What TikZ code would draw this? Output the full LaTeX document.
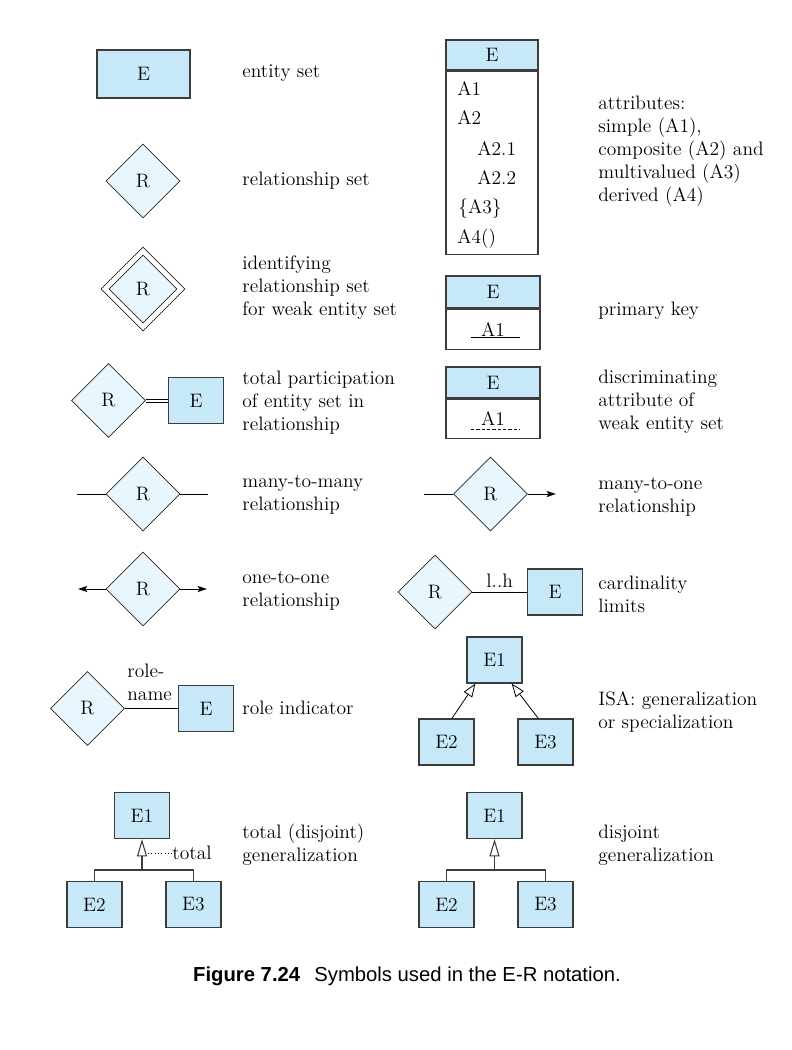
\documentclass[tikz,border=0pt]{standalone}
\usepackage{fontspec}
\newfontfamily\capfont{Liberation Sans}
\usetikzlibrary{shapes.geometric, arrows.meta, positioning}
\definecolor{entblue}{RGB}{198,232,248}
\definecolor{relblue}{RGB}{234,246,253}
\definecolor{edgegray}{RGB}{60,60,60}

\tikzset{
  ent/.style={draw=edgegray, fill=entblue, line width=0.9pt,
    minimum width=41.25pt, minimum height=34.5pt, inner sep=0pt},
  rel/.style={diamond, draw=black!85, fill=relblue, line width=0.6pt,
    minimum width=55.5pt, minimum height=55.5pt, inner sep=0pt},
  tbl/.style={draw=edgegray, line width=0.9pt, inner sep=0pt},
  desc/.style={anchor=west, align=left, inner sep=0pt},
  isa/.style={-{Triangle[open, length=13pt, width=7.5pt]}},
  isashort/.style={-{Triangle[open, length=10pt, width=7.5pt]}}
}

\begin{document}
\begin{tikzpicture}[x=0.75pt,y=-0.75pt,>={Stealth[length=7pt,width=4.5pt,inset=1.5pt]},
    line width=0.6pt,font=\fontsize{14.6}{17.25}\selectfont]
\useasboundingbox (0,0) rectangle (792,1050);

% left column
\node[ent, minimum width=69.75pt, minimum height=36pt] (es) at (143.5,74) {E};
\node[desc] (esl) at (242,73) {entity set};

\node[rel] (rs) at (143,181) {R};
\node[desc] (rsl) at (242,181) {relationship set};

\node[rel, fill=none, minimum width=63pt, minimum height=63pt] (wro) at (143,289) {};
\node[rel, minimum width=51pt, minimum height=51pt] (wr) at (wro) {R};
\node[desc] (wrl) at (242,288) {identifying\\relationship set\\for weak entity set};

\node[rel] (tr) at (108.5,400.5) {R};
\node[ent] (te) at (196,400.5) {E};
\draw[line width=0.5pt] ([yshift=1.2pt]tr.east) -- ([yshift=1.2pt]te.west)
  ([yshift=-1.2pt]tr.east) -- ([yshift=-1.2pt]te.west);
\node[desc] (trl) at (242,403) {total participation\\of entity set in\\relationship};

\node[rel] (mm) at (143,494) {R};
\coordinate (mml) at (77,494);
\coordinate (mmr) at (208,494);
\draw (mml) -- (mm.west) (mm.east) -- (mmr);
\node[desc] (mml2) at (242,494.5) {many-to-many\\relationship};

\node[rel] (oo) at (143,589) {R};
\coordinate (ool) at (78,589);
\coordinate (oor) at (207,589);
\draw[->] (oo.west) -- (ool);
\draw[->] (oo.east) -- (oor);
\node[desc] (ool2) at (242,590.5) {one-to-one\\relationship};

\node[rel] (rr) at (87.5,708.5) {R};
\node[ent] (re) at (206,708.5) {E};
\draw (rr.east) -- (re.west);
\node[desc] (rn) at (127,682) {role-\\name};
\node[desc] (rrl) at (242,708) {role indicator};

\node[ent] (t1) at (142,815.5) {E1};
\node[ent] (t2) at (94.5,904.5) {E2};
\node[ent] (t3) at (193.5,904.5) {E3};
\coordinate (tj) at (142,870);
\draw[line width=0.8pt, edgegray] (t2.north) |- (tj) -| (t3.north);
\draw[isa, line width=0.8pt, edgegray] (tj) -- (t1.south);
\node[anchor=west, inner sep=0pt] (tot) at (172,853) {total};
\coordinate (tdot) at (148,853);
\draw[dotted, line width=0.5pt] (tdot) -- (tot.west);
\node[desc] (tgl) at (242,845) {total (disjoint)\\generalization};

% right column
\node[tbl, fill=entblue, minimum width=69pt, minimum height=22.5pt] (ah) at (492,55) {E};
\node[tbl, minimum width=69pt, minimum height=137.25pt, anchor=north] (ab) at (ah.south) {};
\foreach \t/\x/\y in {A1/457/89, A2/457/118, A2.1/477/149, A2.2/477/178, {\{A3\}}/458/209, A4()/457/239}
  \node[anchor=west, inner sep=0pt] at (\x,\y) {\t};
\node[desc] (al) at (598,151) {attributes:\\simple (A1),\\composite (A2) and\\multivalued (A3)\\derived (A4)};

\node[tbl, fill=entblue, minimum width=70.5pt, minimum height=24pt] (ph) at (493,292) {E};
\node[tbl, minimum width=70.5pt, minimum height=30pt, anchor=north] (pb) at (ph.south) {A1};
\coordinate (pu1) at (471,337);
\coordinate (pu2) at (520,337);
\draw (pu1) -- (pu2);
\node[desc] (pkl) at (598,311) {primary key};

\node[tbl, fill=entblue, minimum width=70.5pt, minimum height=23.25pt] (dh) at (493,382.5) {E};
\node[tbl, minimum width=70.5pt, minimum height=29.25pt, anchor=north] (db) at (dh.south) {A1};
\coordinate (du1) at (471,429);
\coordinate (du2) at (520,429);
\draw[dash pattern=on 2.4pt off 1.6pt] (du1) -- (du2);
\node[desc] (dkl) at (598,402) {discriminating\\attribute of\\weak entity set};

\node[rel] (mo) at (490.5,494) {R};
\coordinate (mol) at (424,494);
\coordinate (mor) at (556,494);
\draw (mol) -- (mo.west);
\draw[->] (mo.east) -- (mor);
\node[desc] (mol2) at (598,496.5) {many-to-one\\relationship};

\node[rel] (cr) at (435,592) {R};
\node[ent] (ce) at (555,592) {E};
\draw (cr.east) -- node[above, inner sep=3pt] {l..h} (ce.west);
\node[desc] (crl) at (598,594.5) {cardinality\\limits};

\node[ent] (i1) at (494.5,660) {E1};
\node[ent] (i2) at (446.5,742) {E2};
\node[ent] (i3) at (545.5,742) {E3};
\draw[isashort] (i2.77) -- (i1.231);
\draw[isashort] (i3.107) -- (i1.306);
\node[desc] (il) at (598,711.5) {ISA: generalization\\or specialization};

\node[ent] (d1) at (494.5,815.5) {E1};
\node[ent] (d2) at (446.5,904.5) {E2};
\node[ent] (d3) at (545.5,904.5) {E3};
\coordinate (dj) at (494.5,870);
\draw[line width=0.8pt, edgegray] (d2.north) |- (dj) -| (d3.north);
\draw[isa, line width=0.8pt, edgegray] (dj) -- (d1.south);
\node[desc] (djl) at (598,845) {disjoint\\generalization};

% caption
\node[font=\capfont\fontsize{15.2}{17}\selectfont] (cap) at (407,976)
  {\textbf{Figure 7.24}\hspace{0.7em}Symbols used in the E-R notation.};
\end{tikzpicture}
\end{document}
